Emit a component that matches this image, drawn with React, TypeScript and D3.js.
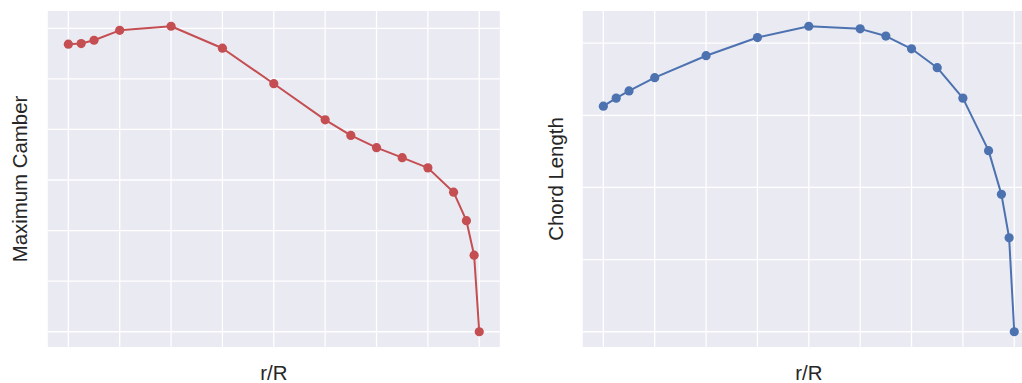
import React from "react";
import * as d3 from "d3";

// radial stations r/R
const rR = [0.2, 0.225, 0.25, 0.3, 0.4, 0.5, 0.6, 0.7, 0.75, 0.8, 0.85, 0.9, 0.95, 0.975, 0.99, 1.0];
// max camber
const camber = [
  0.02843, 0.02849, 0.02882, 0.0298, 0.0302, 0.02803, 0.02452, 0.02095, 0.01941, 0.0182, 0.01721,
  0.0162, 0.0138, 0.01098, 0.00757, 0.0,
];
// chord length
const chord = [
  0.1563, 0.1619, 0.1669, 0.1761, 0.1913, 0.2039, 0.2117, 0.2099, 0.2049, 0.1961, 0.183, 0.1619,
  0.1255, 0.0952, 0.0651, 0.0,
];
const xTicks = [0.2, 0.3, 0.4, 0.5, 0.6, 0.7, 0.8, 0.9, 1.0];
const camberTicks = [0, 0.005, 0.01, 0.015, 0.02, 0.025, 0.03];
const chordTicks = [0, 0.05, 0.1, 0.15, 0.2];

const W = 1022;
const H = 383;
const top = 11;
const bottom = 347;
const panelW = 452;
const font = "'Liberation Sans', Arial, sans-serif";

// matplotlib-style 5% padding
const pad = (ext: [number, number]) => {
  const m = (ext[1] - ext[0]) * 0.05;
  return [ext[0] - m, ext[1] + m];
};

type PanelProps = {
  left: number;
  ys: number[];
  yTicks: number[];
  color: string;
  yLabel: string;
  yLabelX: number;
};

const Panel = ({ left, ys, yTicks, color, yLabel, yLabelX }: PanelProps) => {
  const x = d3
    .scaleLinear()
    .domain(pad(d3.extent(rR) as [number, number]))
    .range([left, left + panelW]);
  const y = d3
    .scaleLinear()
    .domain(pad(d3.extent(ys) as [number, number]))
    .range([bottom, top]);
  const pts = rR.map((r, i) => [r, ys[i]] as [number, number]);
  const line = d3
    .line<[number, number]>()
    .x((d) => x(d[0]))
    .y((d) => y(d[1]));

  return (
    <g>
      <rect x={left} y={top} width={panelW} height={bottom - top} fill="#EAEAF2" />
      {xTicks.map((t) => (
        <line key={"x" + t} x1={x(t)} x2={x(t)} y1={top} y2={bottom} stroke="#fff" strokeWidth={1.3} />
      ))}
      {yTicks.map((t) => (
        <line key={"y" + t} x1={left} x2={left + panelW} y1={y(t)} y2={y(t)} stroke="#fff" strokeWidth={1.3} />
      ))}
      <path d={line(pts) || ""} fill="none" stroke={color} strokeWidth={2} strokeLinejoin="round" />
      {pts.map((d, i) => (
        <circle key={i} cx={x(d[0])} cy={y(d[1])} r={4.6} fill={color} />
      ))}
      <text
        x={left + panelW / 2}
        y={380}
        textAnchor="middle"
        fontFamily={font}
        fontSize={20.4}
        fill="#262626"
      >
        r/R
      </text>
      <text
        transform={`translate(${yLabelX},${(top + bottom) / 2}) rotate(-90)`}
        textAnchor="middle"
        fontFamily={font}
        fontSize={20.4}
        fill="#262626"
      >
        {yLabel}
      </text>
    </g>
  );
};

export default function App() {
  return (
    <svg
      width={W}
      height={H}
      style={{ position: "absolute", left: 0, top: 0, display: "block", background: "#fff" }}
    >
      <Panel left={47.8} ys={camber} yTicks={camberTicks} color="#C44E52" yLabel="Maximum Camber" yLabelX={26.7} />
      <Panel left={582.8} ys={chord} yTicks={chordTicks} color="#4C72B0" yLabel="Chord Length" yLabelX={562.7} />
    </svg>
  );
}
